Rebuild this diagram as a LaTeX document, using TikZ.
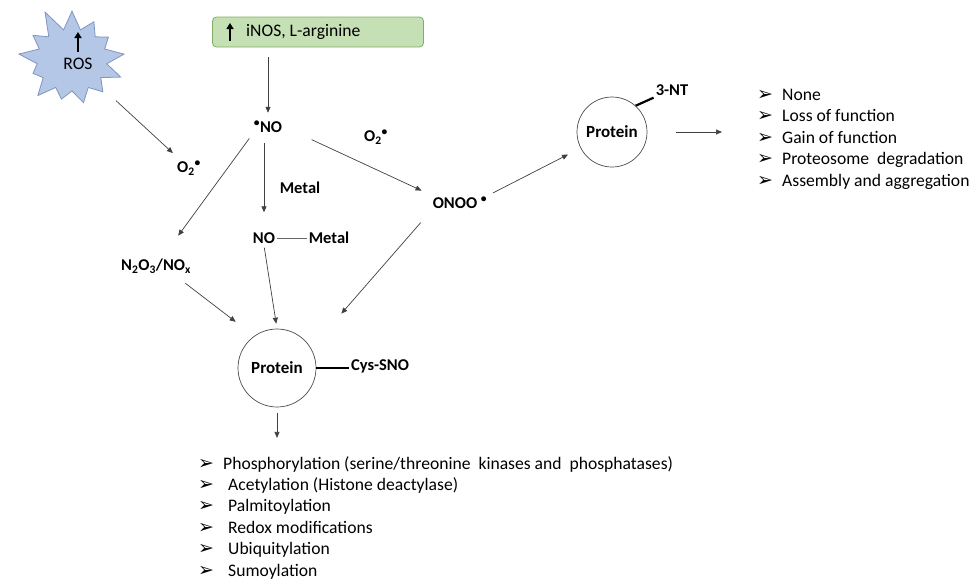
\documentclass[tikz,border=0pt]{standalone}
\usepackage{fontspec}
\setmainfont{Carlito}
\newfontfamily\symfont{DejaVu Sans}
\usetikzlibrary{arrows.meta,shapes.symbols,positioning}
\definecolor{rosblue}{HTML}{B4C7E7}
\definecolor{rosedge}{HTML}{7F95BF}
\definecolor{boxgreen}{HTML}{C5E0B4}
\definecolor{boxedge}{HTML}{7FAF5F}
\newcommand{\bul}[1]{\makebox[#1][l]{\symfont\fontsize{19}{19}\selectfont ➢}}
\newcommand{\rad}{\textsuperscript{\textbullet}}

\begin{document}
\begin{tikzpicture}[x=1pt,y=-1pt,
    every node/.style={font=\fontsize{17.6}{20}\selectfont},
    lbl/.style={font=\fontsize{16.5}{19}\selectfont\bfseries, inner sep=2pt},
    item/.style={anchor=base west, inner sep=0pt},
    conn/.style={draw=black!75, line width=0.7pt, -{Triangle[length=6pt,width=5pt]}},
    bond/.style={draw=black, line width=2.2pt},
    prot/.style={circle, draw=black!70, line width=0.7pt, minimum size=#1,
        inner sep=0pt, font=\fontsize{17}{19}\selectfont\bfseries},
    burst/.style={starburst, starburst points=13, starburst point height=24pt,
        random starburst=11, fill=rosblue, draw=rosedge, line width=0.8pt,
        minimum width=118pt, minimum height=110pt},
    greenbox/.style={rectangle, rounded corners=4pt, fill=boxgreen, draw=boxedge,
        line width=0.8pt, minimum width=211pt, minimum height=30pt},
    uparrow/.style={draw=black, line width=2.2pt, -{Triangle[length=6pt,width=7pt]}}
]
\useasboundingbox (0,0) rectangle (971,581);

% sources
\node[burst] (ros) at (72,60) {};
\node (rostxt) at (78,64) {ROS};
\draw[uparrow] (78,52) -- (78,32);
\node[greenbox] (inos) at (318,32) {};
\node[anchor=west, inner sep=0pt] (inostxt) at (246,32) {iNOS, L-arginine};
\draw[uparrow] (230,41) -- (230,23);

% species
\node[lbl] (no) at (268,127) {\rad NO};
\node[lbl] (o2a) at (189,168) {O\textsubscript{2}\rad};
\node[lbl] (o2b) at (376,137) {O\textsubscript{2}\rad};
\node[lbl] (nox) at (156,266) {N\textsubscript{2}O\textsubscript{3}/NO\textsubscript{x}};
\node[lbl] (metal) at (300,188) {Metal};
\node[lbl] (nom) at (264,238) {NO};
\node[lbl] (nometal) at (329,238) {Metal};
\node[lbl] (onoo) at (460,203) {ONOO \rad};

% proteins
\node[prot=70] (protA) at (612,132) {Protein};
\node[lbl] (nt) at (672,90) {3-NT};
\node[prot=78] (protB) at (277,368) {Protein};
\node[lbl] (sno) at (380,366) {Cys-SNO};

% outcomes
\foreach \t [count=\i] in {None, Loss of function, Gain of function,
    Proteosome\ \ degradation, Assembly and aggregation}
  \node[item] (eff\i) at (757,100+21.6*\i-21.6) {\bul{25pt}\t};
\foreach \t [count=\i] in {{\hspace{-5pt}Phosphorylation (serine/threonine\ \ kinases and\ \ phosphatases)},
    Acetylation (Histone deactylase), Palmitoylation, Redox modifications,
    Ubiquitylation, Sumoylation}
  \node[item] (ptm\i) at (198,469+21.4*\i-21.4) {\bul{30pt}\t};

% connectors
\draw[conn, shorten <=10pt, shorten >=6pt] (inos.south -| no) -- (no);
\draw[conn, shorten <=18pt, shorten >=8pt] (ros) -- (o2a);
\draw[conn, shorten <=4pt, shorten >=26pt] (no.south west) -- (nox);
\draw[conn, shorten <=8pt, shorten >=18pt] (no.south -| nom) -- (nom);
\draw[conn, shorten <=30pt, shorten >=10pt] (no.east) -- (onoo.north west);
\draw[conn, shorten <=4pt, shorten >=14pt] (onoo.north east) -- (protA);
\draw[conn, shorten <=29pt, shorten >=35pt] (protA.east) -- (protA.east -| eff3.west);
\draw[conn, shorten <=15pt, shorten >=46pt] (onoo.south west) -- (protB.30);
\draw[conn, shorten <=13pt, shorten >=17pt] ([xshift=19pt]nox.south) -- ([yshift=8pt]protB.north west);
\draw[conn, shorten <=2pt, shorten >=5pt] (nom.south) -- (protB.north);
\draw[conn, shorten <=6pt, shorten >=18pt] (protB.south) -- (protB.south |- ptm1.north);

% bonds
\draw[bond] (protA.48) -- (nt.south west);
\draw[bond] (protB.east) -- (protB.east -| sno.west);
\draw[draw=black!60, line width=0.8pt] (nom.east) -- (nometal.west);
\end{tikzpicture}
\end{document}
